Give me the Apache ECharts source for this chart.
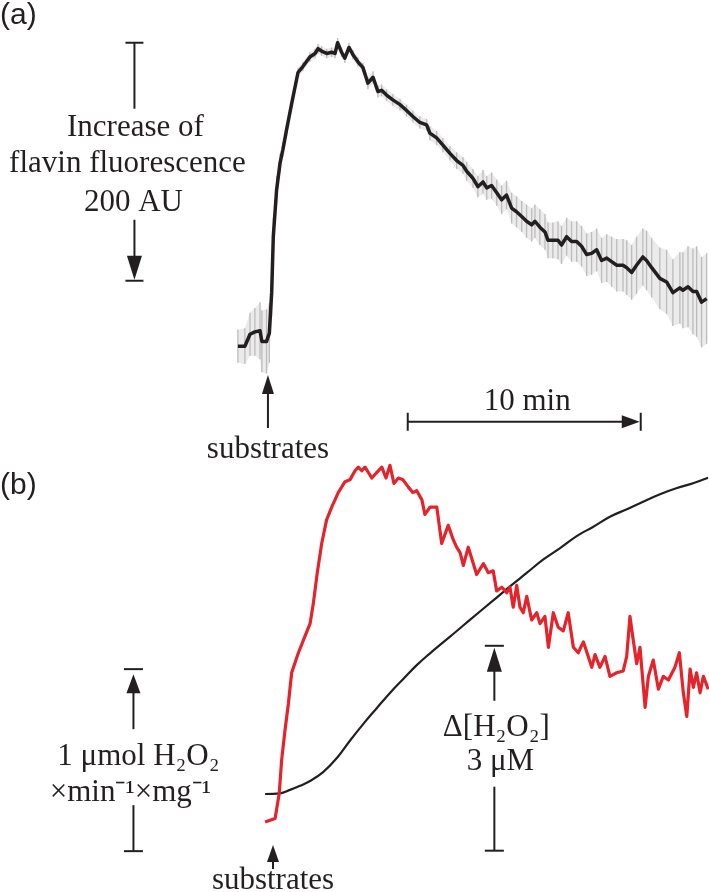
<!DOCTYPE html>
<html><head><meta charset="utf-8">
<script src="https://cdn.jsdelivr.net/npm/echarts@6/dist/echarts.min.js"></script>
<style>html,body{margin:0;padding:0;background:#fff}#c{width:709px;height:892px}</style>
</head><body><div id="c"></div>
<script>
// ---------- Panel (a): flavin fluorescence (AU) vs time (min, 0 = substrates) ----------
const timeA = [-1.29,-0.99,-0.77,-0.56,-0.34,-0.26,-0.06,0.06,0.16,0.23,
0.37,0.52,0.64,0.80,1.02,1.29,1.50,1.80,2.02,2.15,
2.30,2.52,2.73,2.88,2.99,3.16,3.30,3.48,3.65,3.86,
4.08,4.29,4.51,4.72,4.88,5.09,5.36,5.67,5.95,6.22,
6.52,6.81,6.95,7.24,7.51,7.81,8.10,8.37,8.53,8.80,
9.01,9.23,9.39,9.60,9.82,10.03,10.24,10.46,10.67,10.89,
11.10,11.32,11.46,11.67,11.89,12.02,12.23,12.45,12.60,12.82,
13.03,13.25,13.46,13.68,13.89,14.11,14.32,14.54,14.75,14.97,
15.24,15.40,15.61,15.82,16.09,16.25,16.47,16.82,17.11,17.38,
17.68,17.81,18.03,18.24,18.40,18.61,18.83];
const fluorA = [-1,-1,9,11,12,3,3,10,44,91,
130,153,164,181,203,229,234,242,245,249,
247,245,246,245,254,246,241,250,244,238,
233,220,225,213,214,210,206,202,197,192,
187,185,178,174,168,161,155,151,146,140,
133,137,132,134,128,122,126,115,112,108,
104,101,104,99,95,88,88,88,84,91,
87,87,83,76,77,80,71,73,70,67,
67,65,61,67,74,71,65,56,53,44,
48,46,49,45,45,36,39];
const errA = [14,15,18,20,24,26,27,25,20,16,
12,8,6,5,4,4,4,4,4,4,
4,4,4,4,4,4,4,4,4,4,
4,5,5,5,5,5,5,5,5,5,
5,5,6,6,6,6,7,7,8,8,
9,10,10,11,11,12,12,13,13,13,
14,14,14,15,15,15,15,16,16,16,
17,17,17,18,18,18,19,20,21,22,
22,23,23,24,24,25,25,26,27,28,
30,32,34,36,38,38,38];

// ---------- Panel (b): H2O2 production rate (red) and accumulated H2O2 (black) ----------
const timeRate = [-0.34,0.09,0.16,0.27,0.37,0.52,0.66,0.80,1.09,1.37,
1.59,1.73,1.90,2.09,2.30,2.52,2.80,3.09,3.30,3.52,
3.66,3.81,3.95,4.24,4.45,4.67,4.85,5.02,5.19,5.38,
5.58,5.81,6.00,6.17,6.39,6.52,6.74,7.03,7.24,7.52,
7.74,7.88,8.03,8.17,8.38,8.74,9.03,9.24,9.45,9.60,
9.82,10.03,10.17,10.31,10.46,10.60,10.74,10.89,11.10,11.32,
11.46,11.67,11.82,12.03,12.24,12.46,12.67,12.89,13.10,13.32,
13.53,13.68,13.82,14.03,14.25,14.46,14.75,15.03,15.18,15.32,
15.46,15.61,15.75,15.97,16.11,16.32,16.54,16.75,16.97,17.25,
17.44,17.61,17.76,17.90,18.04,18.18,18.33,18.47,18.68];
const rateB = [0.00,0.02,0.03,0.16,0.34,0.51,0.65,0.82,0.93,1.02,
1.09,1.20,1.37,1.53,1.66,1.73,1.81,1.87,1.88,1.93,
1.95,1.93,1.95,1.89,1.92,1.95,1.89,1.96,1.86,1.89,
1.88,1.84,1.81,1.82,1.77,1.69,1.73,1.73,1.53,1.63,
1.55,1.51,1.48,1.41,1.51,1.36,1.42,1.37,1.38,1.27,
1.29,1.26,1.29,1.18,1.30,1.18,1.15,1.24,1.11,1.15,
1.09,1.13,0.96,1.15,1.07,1.05,1.15,0.96,0.93,0.99,
0.91,0.85,0.92,0.85,0.91,0.80,0.82,0.83,0.91,1.13,
1.00,0.87,0.96,0.63,0.80,0.89,0.73,0.80,0.78,0.85,
0.93,0.71,0.58,0.84,0.74,0.82,0.71,0.80,0.73];
const timeH2O2 = [-0.34,0.30,0.73,1.16,1.59,2.15,2.75,3.30,3.86,4.46,5.02,5.58,6.18,6.74,7.30,7.90,
8.45,9.44,10.17,10.90,11.59,12.32,13.05,13.73,14.46,15.19,15.88,16.61,17.34,18.03,18.67];
const h2o2B = [0.00,0.01,0.06,0.12,0.19,0.32,0.53,0.78,1.02,1.26,1.48,1.68,1.89,2.06,2.22,2.39,
2.55,2.83,3.04,3.24,3.43,3.60,3.78,3.91,4.06,4.17,4.28,4.39,4.48,4.55,4.63];

// ---------- Scale bars (data units) ----------
const fluorBar = {t: -5.73, lo: 54, size: 200};      // 200 AU
const timeBar = {from: 6, size: 10, level: -64.5};   // 10 min
const rateBar = {t: -5.99, lo: -0.16, size: 1};      // 1 umol H2O2 /min/mg
const h2o2Bar = {t: 9.50, lo: -0.83, size: 3};       // 3 uM

const INK = '#231f20', RED = '#e4232b', GREY = '#bcbcbc', BAND = '#ebebeb';
const chart = echarts.init(document.getElementById('c'), null, {renderer: 'canvas'});
const hidden = {show: false, splitLine: {show: false}};
chart.setOption({
  animation: false,
  backgroundColor: '#ffffff',
  grid: [
    {left: 0, width: 709, top: 35.6, height: 333.2},
    {left: 0, width: 709, top: 458, height: 433.2}
  ],
  xAxis: [
    Object.assign({type: 'value', gridIndex: 0, min: -11.5, max: 18.93}, hidden),
    Object.assign({type: 'value', gridIndex: 1, min: -11.717, max: 18.712}, hidden)
  ],
  yAxis: [
    Object.assign({type: 'value', gridIndex: 0, min: -20, max: 260}, hidden),
    Object.assign({type: 'value', gridIndex: 1, min: -0.38, max: 2.0}, hidden),
    Object.assign({type: 'value', gridIndex: 1, min: -1.4231, max: 4.9195}, hidden)
  ],
  series: [
    { // light band (mean ± SD) behind the error bars, built from the same arrays
      type: 'custom', xAxisIndex: 0, yAxisIndex: 0, silent: true, z: 0, clip: false,
      data: [[timeA[0], fluorA[0]]],
      renderItem: (params, api) => {
        const up = timeA.map((t, i) => api.coord([t, fluorA[i] + errA[i]]));
        const dn = timeA.map((t, i) => api.coord([t, fluorA[i] - errA[i]])).reverse();
        return {type: 'polygon', shape: {points: up.concat(dn)}, style: {fill: BAND}};
      }
    },
    {
      type: 'custom', xAxisIndex: 0, yAxisIndex: 0, silent: true, z: 1, clip: false,
      data: timeA.map((t, i) => [t, fluorA[i] - errA[i], fluorA[i] + errA[i]]),
      encode: {x: 0, y: [1, 2]},
      renderItem: (params, api) => {
        const a = api.coord([api.value(0), api.value(1)]);
        const b = api.coord([api.value(0), api.value(2)]);
        return {type: 'line', shape: {x1: a[0], y1: a[1], x2: b[0], y2: b[1]},
                style: {stroke: GREY, lineWidth: 1.3}};
      }
    },
    {
      type: 'line', xAxisIndex: 0, yAxisIndex: 0, z: 3, showSymbol: false, silent: true,
      data: timeA.map((t, i) => [t, fluorA[i]]),
      lineStyle: {color: INK, width: 3.5, join: 'round'}
    },
    {
      type: 'line', xAxisIndex: 1, yAxisIndex: 2, z: 2, showSymbol: false, silent: true, smooth: 0.4,
      data: timeH2O2.map((t, i) => [t, h2o2B[i]]),
      lineStyle: {color: INK, width: 2.2}
    },
    {
      type: 'line', xAxisIndex: 1, yAxisIndex: 1, z: 3, showSymbol: false, silent: true,
      data: timeRate.map((t, i) => [t, rateB[i]]),
      lineStyle: {color: RED, width: 3.2, join: 'round'}
    }
  ]
});

// ---------- Annotations ----------
const pA = (t, v) => chart.convertToPixel({xAxisIndex: 0, yAxisIndex: 0}, [t, v]);
const pR = (t, v) => chart.convertToPixel({xAxisIndex: 1, yAxisIndex: 1}, [t, v]);
const pH = (t, v) => chart.convertToPixel({xAxisIndex: 1, yAxisIndex: 2}, [t, v]);
const SERIF = '31px "Liberation Serif", "Times New Roman", serif';
const SANS = '30px "Liberation Sans", Arial, sans-serif';
const g = [];
function ln(x1, y1, x2, y2, w) { g.push({type: 'line', silent: true, shape: {x1, y1, x2, y2}, style: {stroke: INK, lineWidth: w || 2}}); }
function tri(pts) { g.push({type: 'polygon', silent: true, shape: {points: pts}, style: {fill: INK}}); }
function txt(s, x, y, font, align) {
  g.push({type: 'text', silent: true, x, y, style: {text: s, font: font || SERIF, fill: INK,
    align: align || 'center', verticalAlign: 'middle', textAlign: align || 'center', textVerticalAlign: 'middle'}});
}

// panel labels
txt('(a)', 0, 16, SANS, 'left');
txt('(b)', 0, 486, SANS, 'left');

// (a) fluorescence scale bar
{
  const top = pA(fluorBar.t, fluorBar.lo + fluorBar.size), bot = pA(fluorBar.t, fluorBar.lo);
  const x = top[0], yT = top[1], yB = bot[1];
  ln(x - 9, yT, x + 9, yT);
  ln(x, yT, x, yT + 66);
  txt('Increase of', x + 1, 127.5);
  txt('flavin fluorescence', x - 7, 164);
  txt('200 AU', x - 1, 202.5);
  ln(x, yB - 61, x, yB - 24);
  tri([[x - 7.5, yB - 25], [x + 7.5, yB - 25], [x, yB - 1]]);
  ln(x - 9, yB, x + 9, yB);
}
// (a) substrates arrow
{
  const x = pA(0, 0)[0];
  ln(x, 393, x, 428);
  tri([[x - 6, 394], [x + 6, 394], [x, 375]]);
  txt('substrates', x, 450);
}
// (a) 10 min bar
{
  const a = pA(timeBar.from, timeBar.level), b = pA(timeBar.from + timeBar.size, timeBar.level);
  const y = a[1];
  ln(a[0], y, b[0] - 15, y);
  ln(a[0], y - 9, a[0], y + 9);
  ln(b[0], y - 9, b[0], y + 9);
  tri([[b[0] - 19, y - 6.5], [b[0] - 19, y + 6.5], [b[0] - 1, y]]);
  txt('10 min', (a[0] + b[0]) / 2 + 3, y - 20);
}
// (b) rate scale bar
{
  const top = pR(rateBar.t, rateBar.lo + rateBar.size), bot = pR(rateBar.t, rateBar.lo);
  const x = top[0], yT = top[1], yB = bot[1];
  ln(x - 9.5, yT, x + 9.5, yT);
  tri([[x - 7, yT + 24], [x + 7, yT + 24], [x, yT + 5]]);
  ln(x, yT + 23, x, yT + 60);
  txt('1 μmol H₂O₂', x + 5, 757);
  txt('×min⁻¹×mg⁻¹', x - 3, 793);
  ln(x, yB - 46, x, yB);
  ln(x - 9.5, yB, x + 9.5, yB);
}
// (b) H2O2 scale bar
{
  const top = pH(h2o2Bar.t, h2o2Bar.lo + h2o2Bar.size), bot = pH(h2o2Bar.t, h2o2Bar.lo);
  const x = top[0], yT = top[1], yB = bot[1];
  ln(x - 9.5, yT, x + 9.5, yT);
  tri([[x - 7.5, yT + 26], [x + 7.5, yT + 26], [x, yT + 2]]);
  ln(x, yT + 25, x, yT + 55);
  txt('Δ[H₂O₂]', x + 2, 728);
  txt('3 μM', x + 6, 762);
  ln(x, yB - 64, x, yB);
  ln(x - 9.5, yB, x + 9.5, yB);
}
// (b) substrates arrow
{
  const x = pR(0, 0)[0];
  ln(x, 860, x, 869);
  tri([[x - 6, 862], [x + 6, 862], [x, 845]]);
  txt('substrates', x, 881);
}
chart.setOption({graphic: {elements: g}});
</script>
</body></html>
